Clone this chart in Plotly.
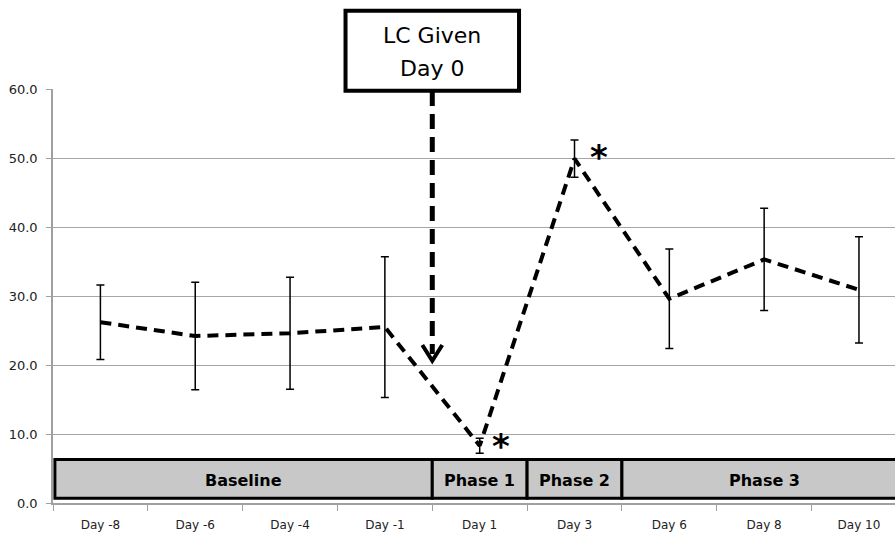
import plotly.graph_objects as go

# Sampling days and the measured means with their error (± SD)
days = ["Day -8", "Day -6", "Day -4", "Day -1", "Day 1", "Day 3", "Day 6", "Day 8", "Day 10"]
means = [26.2, 24.2, 24.6, 25.5, 8.3, 49.9, 29.6, 35.3, 30.9]
errors = [5.4, 7.8, 8.1, 10.2, 1.1, 2.7, 7.2, 7.4, 7.7]

# Study phases shown as a band along the bottom of the plot
phase_names = ["Baseline", "Phase 1", "Phase 2", "Phase 3"]
phase_starts = [-0.48, 3.5, 4.5, 5.5]
phase_ends = [3.5, 4.5, 5.5, 8.6]

# Days flagged as significant
significant_days = ["Day 1", "Day 3"]

# Dosing event annotation
event_lines = ["LC Given", "Day 0"]
event_x = 3.5          # boundary between Day -1 and Day 1
event_tip = 20.6       # y value where the arrow points

fig = go.Figure()

fig.add_trace(go.Scatter(
    x=days, y=means,
    mode="lines",
    line=dict(color="black", width=4, dash="11px,7px"),
    error_y=dict(type="data", array=errors, visible=True,
                 color="black", thickness=1.5, width=4),
    showlegend=False,
    hoverinfo="skip",
))

shapes = []
annotations = []

# Phase band
for name, x0, x1 in zip(phase_names, phase_starts, phase_ends):
    shapes.append(dict(type="rect", xref="x", yref="y", x0=x0, x1=x1, y0=0.7, y1=6.3,
                       fillcolor="#c8c8c8", line=dict(color="black", width=3), layer="above"))
    cx = (max(x0, -0.5) + min(x1, 8.5)) / 2
    annotations.append(dict(x=cx, y=3.5, xref="x", yref="y", text=name, showarrow=False,
                            xanchor="center", yanchor="middle", yshift=-2,
                            font=dict(family="DejaVu Sans", size=16, color="black", weight="bold")))

# Event box above the plot
box_half = 0.915
box_cx = (event_x + 0.5) / 8.88
shapes.append(dict(type="rect", xref="paper", yref="paper",
                   x0=box_cx - box_half / 8.88, x1=box_cx + box_half / 8.88,
                   y0=0.996, y1=1.189,
                   fillcolor="white", line=dict(color="black", width=4), layer="above"))
for line_text, ypos in zip(event_lines, [1.130, 1.050]):
    annotations.append(dict(x=box_cx, y=ypos, xref="paper", yref="paper",
                            text=line_text, showarrow=False,
                            xanchor="center", yanchor="middle",
                            font=dict(family="DejaVu Sans", size=22, color="black")))

# Dashed arrow shaft and open arrowhead
shapes.append(dict(type="line", xref="x", yref="y", x0=event_x, x1=event_x, y0=59.7, y1=event_tip + 1.0,
                   line=dict(color="black", width=5, dash="15px,8px"), layer="above"))
shapes.append(dict(type="path", xref="x", yref="y",
                   path=f"M {event_x - 0.105},{event_tip + 2.3} L {event_x},{event_tip} L {event_x + 0.105},{event_tip + 2.3}",
                   line=dict(color="black", width=4), layer="above"))

# Significance markers
for d, dx, dy in zip(significant_days, [21, 24], [0, 2]):
    i = days.index(d)
    annotations.append(dict(x=d, y=means[i], xref="x", yref="y", text="*", showarrow=False,
                            xanchor="center", yanchor="middle", xshift=dx, yshift=dy,
                            font=dict(family="DejaVu Sans", size=34, color="black", weight="bold")))

fig.update_layout(
    width=895, height=534,
    margin=dict(l=53, r=0, t=89, b=31),
    paper_bgcolor="white", plot_bgcolor="white",
    shapes=shapes, annotations=annotations,
    showlegend=False,
)

fig.update_xaxes(
    type="category", range=[-0.5, 8.38],
    tickson="boundaries", ticks="outside", ticklen=6, tickcolor="#a0a0a0",
    showline=True, linecolor="#a0a0a0", linewidth=1.5,
    showgrid=False, ticklabelstandoff=10,
    tickfont=dict(family="DejaVu Sans", size=12, color="#222222"),
)
fig.update_yaxes(
    range=[0, 60], dtick=10, tickformat=".1f",
    ticks="outside", ticklen=5, tickcolor="#a0a0a0",
    showline=True, linecolor="#a0a0a0", linewidth=1.5,
    showgrid=True, gridcolor="#a6a6a6", gridwidth=1,
    zeroline=False, ticklabelstandoff=6,
    tickfont=dict(family="DejaVu Sans", size=13, color="#222222"),
)

fig.write_html("out.html")
